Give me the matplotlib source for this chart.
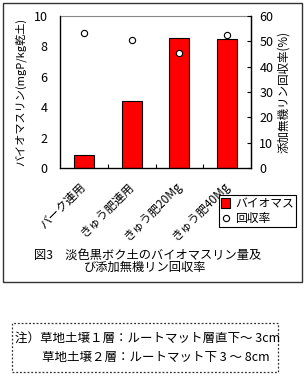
import matplotlib
matplotlib.use("Agg")
import matplotlib.pyplot as plt
from matplotlib.patches import Rectangle
from matplotlib.lines import Line2D
import numpy as np

plt.rcParams['font.family'] = ['Noto Sans CJK JP', 'DejaVu Sans']

categories = ['バーク連用', 'きゅう肥連用', 'きゅう肥20Mg', 'きゅう肥40Mg']
biomass_p = [0.85, 4.4, 8.55, 8.5]        # mgP/kg, left axis
recovery = [53.2, 50.4, 45.3, 52.6]       # %, right axis

caption = ['図3　淡色黒ボク土のバイオマスリン量及', 'び添加無機リン回収率']
notes = ['注）草地土壌１層：ルートマット層直下～ 3cm', '草地土壌２層：ルートマット下 3 ～ 8cm']

fig = plt.figure(figsize=(3.04, 3.83), dpi=100)

# outer frame around chart + caption
fig.patches.append(Rectangle((3 / 304, 1 - 282 / 383), 299 / 304, 279 / 383,
                             transform=fig.transFigure, fill=False,
                             edgecolor='#333333', lw=1.0))
# dotted note box
fig.patches.append(Rectangle((12 / 304, 1 - 372 / 383), 266 / 304, 49 / 383,
                             transform=fig.transFigure, fill=False,
                             edgecolor='#333333', lw=0.9, linestyle=(0, (1.5, 1.5))))

ax = fig.add_axes([60 / 304, 1 - 168 / 383, 191 / 304, 152 / 383])
x = np.arange(len(categories))
ax.bar(x, biomass_p, width=0.42, color='#ff0000', edgecolor='black', lw=0.8, zorder=2)
ax.set_xlim(-0.5, len(categories) - 0.5)
ax.set_ylim(0, 10)
ax.set_yticks([0, 2, 4, 6, 8, 10])
ax.tick_params(axis='y', length=0, labelsize=9, pad=9)
ax.set_xticks(x)
ax.set_xticklabels(categories, rotation=45, ha='right', va='center',
                   rotation_mode='anchor', fontsize=8.5)
ax.tick_params(axis='x', length=0, pad=12)
ax.set_xticks(np.arange(0.5, len(categories) - 1, 1), minor=True)
ax.tick_params(axis='x', which='minor', direction='in', length=3, width=0.8)
ax.spines['top'].set_color('#888888')
for s in ['left', 'bottom', 'right']:
    ax.spines[s].set_linewidth(0.9)
ax.set_ylabel('バイオマスリン(mgP/kg乾土)', fontsize=8, labelpad=5)

ax2 = ax.twinx()
ax2.plot(x, recovery, 'o', ms=4.5, mfc='white', mec='black', mew=0.8, zorder=3)
ax2.set_ylim(0, 60)
ax2.set_yticks(range(0, 61, 10))
ax2.tick_params(axis='y', direction='in', length=3, width=0.8, labelsize=9, pad=6)
ax2.spines['top'].set_visible(False)
ax2.spines['right'].set_linewidth(0.9)
ax2.set_ylabel('添加無機リン回収率(%)', fontsize=8.3, labelpad=3)

handles = [Rectangle((0, 0), 1, 1, facecolor='#ff0000', edgecolor='black', lw=0.8),
           Line2D([], [], ls='', marker='o', ms=4.5, mfc='white', mec='black', mew=0.8)]
leg = fig.legend(handles, ['バイオマス', '回収率'], loc='center',
                 bbox_to_anchor=(257.5 / 304, 1 - 211 / 383), fontsize=8.5,
                 fancybox=False, edgecolor='black', framealpha=1,
                 handlelength=0.8, handleheight=0.8, handletextpad=0.4,
                 borderpad=0.2, labelspacing=0.15, borderaxespad=0)
leg.get_frame().set_linewidth(0.8)

fig.text(148 / 304, 1 - 255 / 383, caption[0], ha='center', va='center', fontsize=8.8)
fig.text(145 / 304, 1 - 267 / 383, caption[1], ha='center', va='center', fontsize=8.8)
fig.text(15 / 304, 1 - 338 / 383, notes[0], ha='left', va='center', fontsize=9)
fig.text(42 / 304, 1 - 357 / 383, notes[1], ha='left', va='center', fontsize=9)

fig.savefig('out.png', dpi=100)
